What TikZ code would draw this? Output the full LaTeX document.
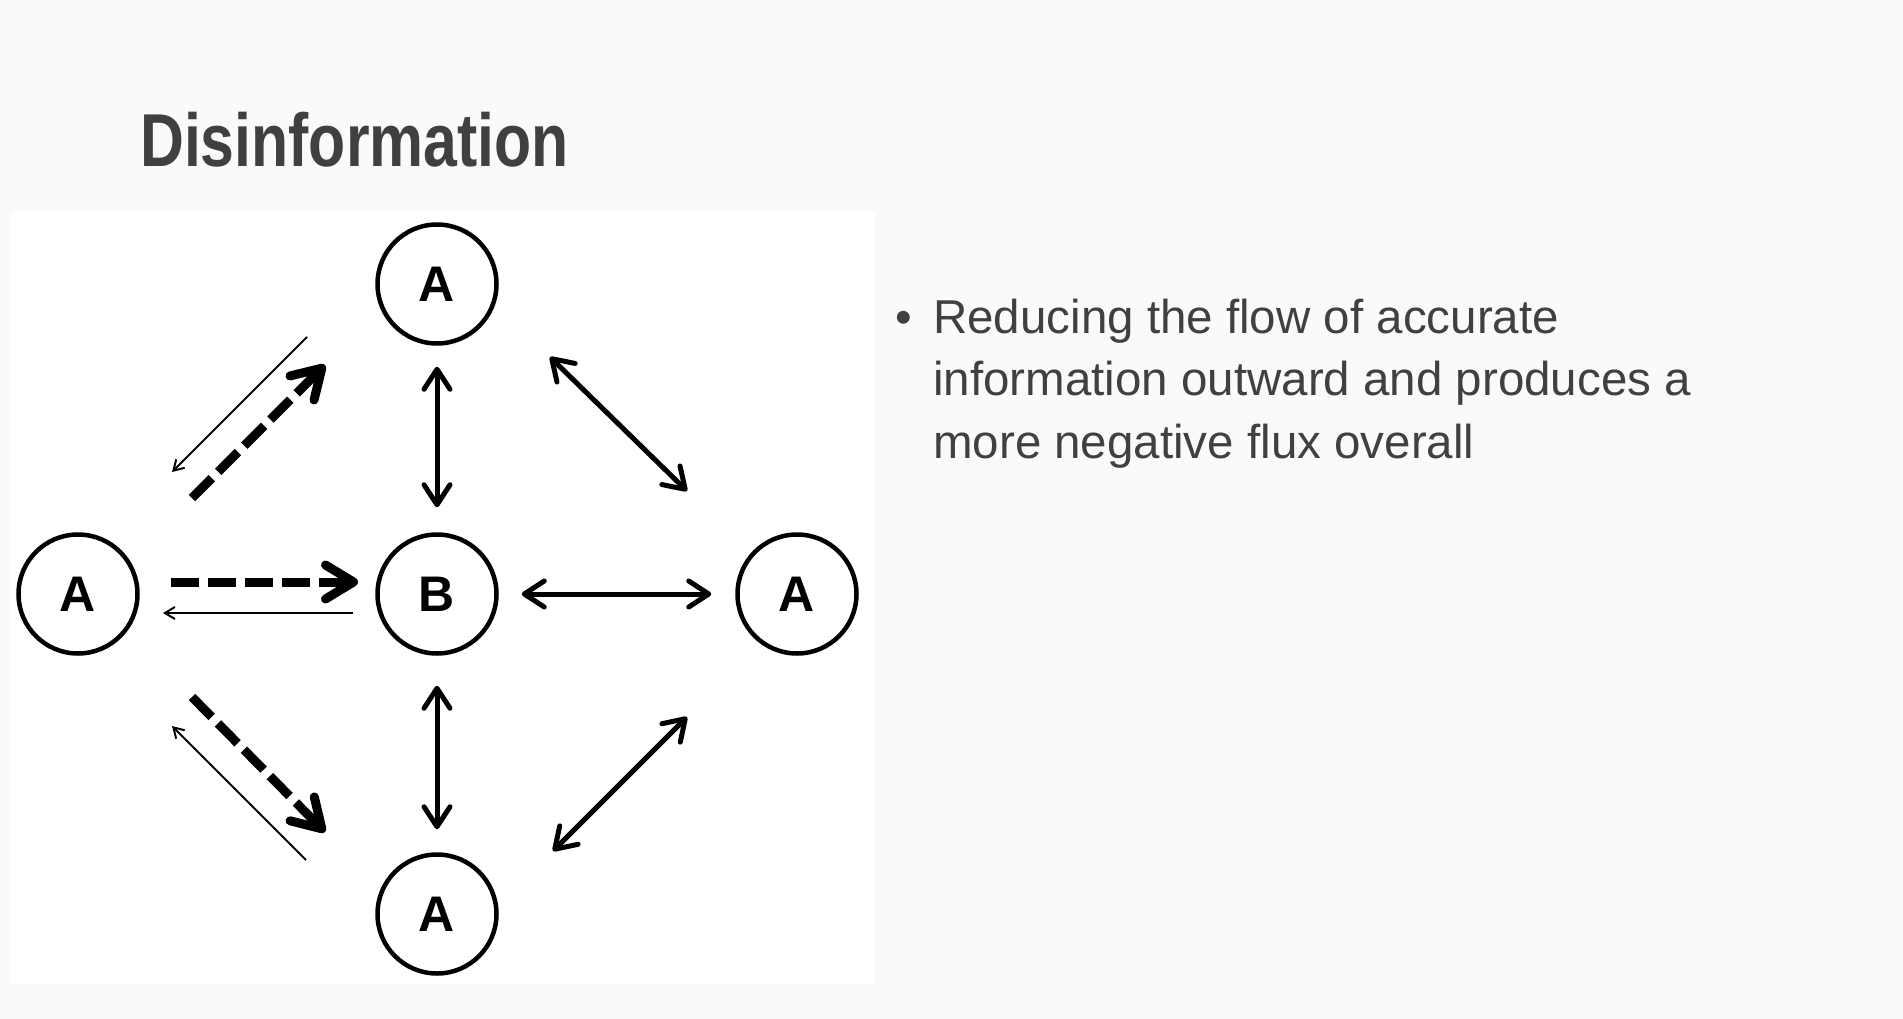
\documentclass[tikz,border=0pt]{standalone}
\usepackage{fontspec}
\setmainfont{Liberation Sans}
\newfontfamily\titlefont[FakeStretch=0.81]{Liberation Sans}
\usepackage{tikz}
\usetikzlibrary{arrows.meta}
\definecolor{slidegrey}{HTML}{404040}
\definecolor{slidebg}{HTML}{FAFAFA}

\begin{document}
\begin{tikzpicture}[x=1pt,y=-1pt,
    agent/.style={draw,circle,line width=4.5pt,minimum size=119pt,inner sep=0pt,
      font=\fontsize{50}{50}\selectfont\bfseries},
    both/.style={line width=5pt,
      {Straight Barb[length=20pt,width=26pt,round]}-{Straight Barb[length=20pt,width=26pt,round]}},
    push/.style={line width=9pt,dash pattern=on 28pt off 9pt,
      -{Straight Barb[length=28pt,width=34pt,round]}},
    back/.style={line width=2pt,-{Straight Barb[length=10pt,width=12pt]}}]
  \useasboundingbox (0,0) rectangle (1903,1019);
  \fill[slidebg] (0,0) rectangle (1903,1019);
  \fill[white] (10,212) rectangle (875,984);
  \node[anchor=base west,inner sep=0pt,text=slidegrey,
    font=\titlefont\bfseries\fontsize{75}{75}\selectfont] (title) at (140,167) {Disinformation};
  \node[agent] (atop) at (437,284) {A};
  \node[agent] (aleft) at (78,594) {A};
  \node[agent] (b) at (437,594) {B};
  \node[agent] (aright) at (797,594) {A};
  \node[agent] (abot) at (437,914) {A};
  \draw[both,shorten <=21pt,shorten >=25pt] (atop) -- (b);
  \draw[both,shorten <=30pt,shorten >=23pt] (b) -- (abot);
  \draw[both,shorten <=23pt,shorten >=24pt] (b) -- (aright);
  \draw[both] ([shift={(113,73)}]atop.center) -- ([shift={(-110,-103)}]aright.center);
  \draw[both] ([shift={(-110,123)}]aright.center) -- ([shift={(116,-63)}]abot.center);
  \draw[push] ([shift={(114,-96)}]aleft.center) -- ([shift={(-112,81)}]atop.center);
  \draw[back] ([shift={(-130,53)}]atop.center) -- ([shift={(94,-122)}]aleft.center);
  \draw[push] ([shift={(93,-12)}]aleft.center) -- ([shift={(-79,-12)}]b.center);
  \draw[back] ([shift={(-84,19)}]b.center) -- ([shift={(85,19)}]aleft.center);
  \draw[push] ([shift={(114,103)}]aleft.center) -- ([shift={(-112,-82)}]abot.center);
  \draw[back] ([shift={(-131,-54)}]abot.center) -- ([shift={(94,132)}]aleft.center);
  \node[anchor=base,inner sep=0pt,text=slidegrey,
    font=\fontsize{47.5}{47.5}\selectfont] (dot) at (904,333) {•};
  \node[anchor=base west,inner sep=0pt,align=left,text=slidegrey,
    font=\fontsize{47.5}{62.5}\selectfont] (point) at (933,458)
    {Reducing the flow of accurate\\information outward and produces a\\more negative flux overall};
\end{tikzpicture}
\end{document}
